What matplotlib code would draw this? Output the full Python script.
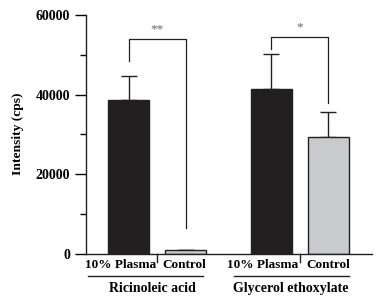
import matplotlib
matplotlib.use("Agg")
import matplotlib.pyplot as plt
import matplotlib.transforms as mtransforms
from matplotlib.ticker import MultipleLocator

# data
conditions = ["10% Plasma", "Control", "10% Plasma", "Control"]
groups = ["Ricinoleic acid", "Glycerol ethoxylate"]
positions = [0, 1, 2.5, 3.5]
intensity = [38700, 900, 41500, 29300]
sd_upper = [6100, 0, 8700, 6300]
bar_colors = ["#231f20", "#c9cacc", "#231f20", "#c9cacc"]
stars = ["**", "*"]

plt.rcParams['font.family'] = ['Liberation Serif', 'DejaVu Serif']
plt.rcParams['font.weight'] = 'bold'

fig = plt.figure(figsize=(3.83, 3.03), dpi=100)
ax = fig.add_axes([0.2245, 0.1617, 0.747, 0.789])

ax.bar(positions, intensity, width=0.72, color=bar_colors,
       edgecolor="#231f20", linewidth=1.0, zorder=2)
ax.errorbar(positions, intensity, yerr=[[0] * 4, sd_upper], fmt="none",
            ecolor="#231f20", elinewidth=1.0, capsize=5.5, capthick=1.0, zorder=1)

ax.set_xlim(-0.75, 4.27)
ax.set_ylim(0, 60000)
ax.yaxis.set_major_locator(MultipleLocator(20000))
ax.yaxis.set_minor_locator(MultipleLocator(10000))
ax.tick_params(axis="y", which="major", length=8, width=1, labelsize=10, pad=3.5)
ax.tick_params(axis="y", which="minor", length=4, width=1)
ax.set_xticks([])
for s in ["top", "right"]:
    ax.spines[s].set_visible(False)
ax.spines["left"].set_linewidth(1)
ax.spines["bottom"].set_linewidth(1)
ax.spines["left"].set_color("#231f20")
ax.spines["bottom"].set_color("#231f20")

fig.text(18 / 383, 1 - 133.5 / 303, "Intensity (cps)", rotation=90,
         ha="center", va="center", fontsize=9.7, fontweight="bold")

trans = mtransforms.blended_transform_factory(ax.transData, ax.transAxes)

# category labels under bars
label_shift = [-0.15, -0.03, -0.15, 0.0]
for p, c, d in zip(positions, conditions, label_shift):
    ax.text(p + d, -0.044, c, transform=trans, ha="center", va="center",
            fontsize=9.5, fontweight="bold")

# small separators between the two labels of each group
for sx in [0.5, 3.0]:
    ax.plot([sx, sx], [0, -0.034], transform=trans, color="#231f20",
            lw=1, clip_on=False)

# group underline and group name
underlines = [(-0.71, 1.31), (1.85, 3.87)]
group_x = [0.41, 2.85]
for (x0, x1), gx, g in zip(underlines, group_x, groups):
    ax.plot([x0, x1], [-0.092, -0.092], transform=trans, color="#231f20",
            lw=1, clip_on=False)
    ax.text(gx, -0.146, g, transform=trans, ha="center", va="center",
            fontsize=10, fontweight="bold")

# significance brackets
brackets = [(0, 1, 54000, 48500, 6500), (2.5, 3.5, 54500, 51500, 38000)]
for (xa, xb, top, ya, yb), st in zip(brackets, stars):
    ax.plot([xa, xa, xb, xb], [ya, top, top, yb], color="#231f20", lw=0.9)
    ax.text((xa + xb) / 2, top + 900, st, ha="center", va="bottom",
            fontsize=9.5, color="#666666", fontweight="normal")

fig.savefig("out.png", dpi=100)
